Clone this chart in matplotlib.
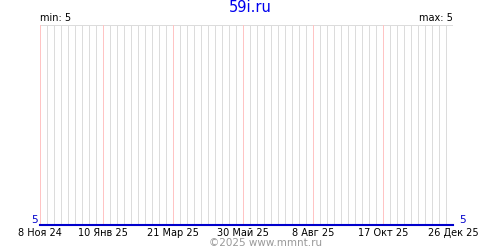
import pandas as pd
import matplotlib
matplotlib.use("Agg")
import matplotlib.pyplot as plt

# data: the series stays at 5 for the whole period
dates = pd.to_datetime(["2024-11-08", "2025-12-26"])
values = [5, 5]

tick_dates = pd.to_datetime(["2024-11-08", "2025-01-10", "2025-03-21", "2025-05-30",
                             "2025-08-08", "2025-10-17", "2025-12-26"])
tick_labels = ["8 Ноя 24", "10 Янв 25", "21 Мар 25", "30 Май 25",
               "8 Авг 25", "17 Окт 25", "26 Дек 25"]
min_val = 5
max_val = 5
title = "59i.ru"
footer = "©2025 www.mmnt.ru"

plt.rcParams['font.family'] = ['DejaVu Sans']

fig = plt.figure(figsize=(5, 2.5), dpi=100)
ax = fig.add_axes([40 / 500, 25 / 250, 413 / 500, 200 / 250])

start, end = dates[0], dates[-1]
ax.set_xlim(start, end)
ax.set_ylim(5, 6)

# weekly grey grid, pink at labelled dates
weeks = pd.date_range(start, end, freq="7D")
for d in weeks:
    if d in tick_dates:
        continue
    ax.axvline(d, color="#dcdcdc", linewidth=0.6, zorder=1, antialiased=False)
for d in tick_dates:
    ax.axvline(d, color="#ffc4c4", linewidth=0.6, zorder=2, antialiased=False)

ax.axhline(6, color="#dcdcdc", linewidth=0.6, zorder=1, antialiased=False)
ax.plot(dates, values, color="#0000cc", linewidth=1.5, zorder=3, clip_on=False)

for s in ax.spines.values():
    s.set_visible(False)
ax.set_yticks([])
ax.set_xticks(tick_dates)
ax.set_xticklabels(tick_labels, fontsize=7)
ax.tick_params(axis="x", length=0, pad=2)

ax.text(-0.006, 0, str(min_val), transform=ax.transAxes, color="#0000cc",
        fontsize=7.5, ha="right", va="bottom")
ax.text(1.015, 0, str(max_val), transform=ax.transAxes, color="#0000cc",
        fontsize=7.5, ha="left", va="bottom")
ax.text(0, 1.01, f"min: {min_val}", transform=ax.transAxes, fontsize=7,
        ha="left", va="bottom")
ax.text(1, 1.01, f"max: {max_val}", transform=ax.transAxes, fontsize=7,
        ha="right", va="bottom")

fig.text(0.5, 0.968, title, color="#0000ee", fontsize=10.5, ha="center", va="center")
fig.text(0.532, 0.028, footer, color="#999999", fontsize=7.5, ha="center", va="center")

fig.savefig("out.png", dpi=100)
